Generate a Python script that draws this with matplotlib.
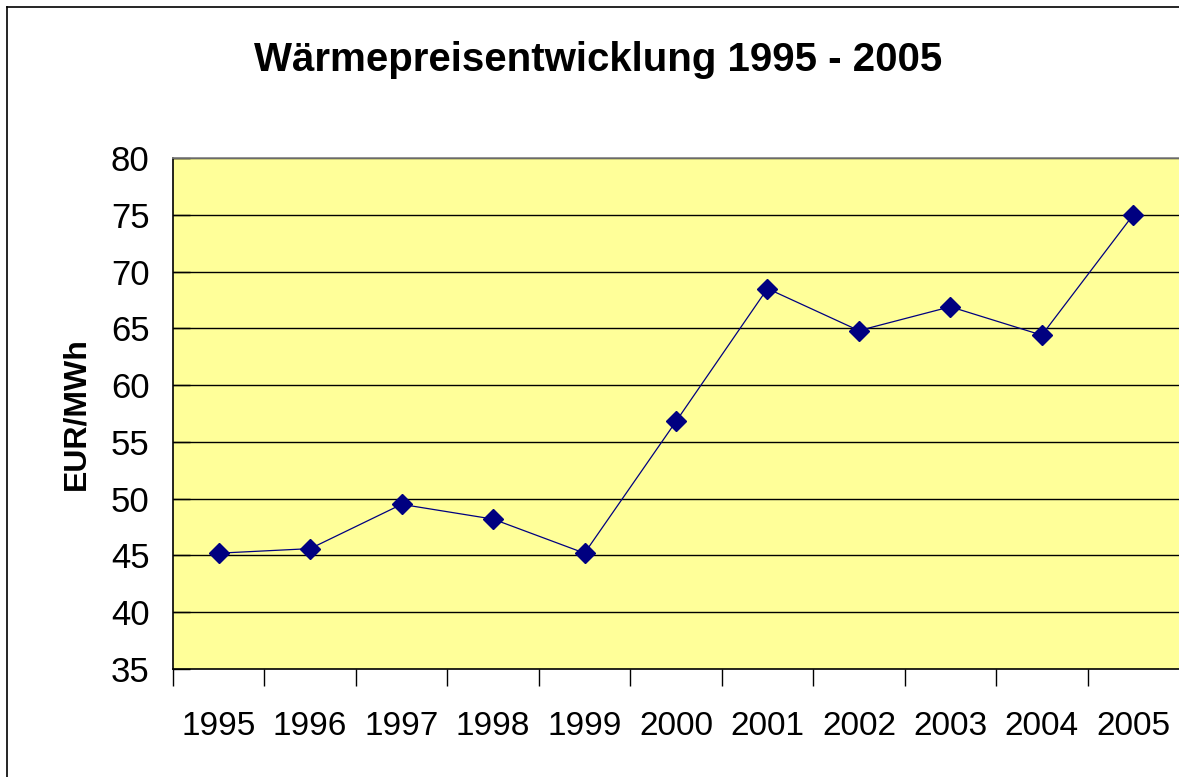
import matplotlib
matplotlib.use("Agg")
import matplotlib.pyplot as plt
from matplotlib.lines import Line2D

# Daten
years = ["1995", "1996", "1997", "1998", "1999", "2000",
         "2001", "2002", "2003", "2004", "2005"]
prices = [45.2, 45.6, 49.5, 48.2, 45.2, 56.8, 68.5, 64.8, 66.9, 64.4, 75.0]
yticks = [35, 40, 45, 50, 55, 60, 65, 70, 75, 80]

plt.rcParams["font.family"] = ["Liberation Sans", "DejaVu Sans"]

fig = plt.figure(figsize=(11.79, 7.77), dpi=100)
fig.patch.set_facecolor("white")
fig.patch.set_edgecolor("white")
fig.patch.set_linewidth(0)
# Rahmen links und oben (rechts/unten abgeschnitten)
fx = 6.5 / 1179
fy = 1 - 6.5 / 777
fig.lines.append(Line2D([fx, fx], [0, fy], transform=fig.transFigure,
                        color="black", linewidth=1.2))
fig.lines.append(Line2D([fx, 1.01], [fy, fy], transform=fig.transFigure,
                        color="black", linewidth=1.2))

ax = fig.add_axes([173 / 1179, 108 / 777, 1006 / 1179, 511 / 777])
ax.set_facecolor("#FFFF99")

x = list(range(len(years)))
ax.plot(x, prices, color="#000080", linewidth=0.9, marker="D",
        markersize=10, markerfacecolor="#000080", markeredgecolor="#000080",
        zorder=3)

ax.set_xlim(-0.5, len(years) - 0.5)
ax.set_ylim(35, 80)
ax.set_yticks(yticks)
for v in yticks[1:]:
    ax.axhline(v, color="black", linewidth=1.0, zorder=1)

ax.set_xticks([i + 0.5 for i in range(len(years) - 1)] + [-0.5])
ax.set_xticklabels([])
ax.tick_params(axis="x", direction="out", length=12, width=1.0)
ax.set_xticks(x, minor=True)
ax.set_xticklabels(years, minor=True, fontsize=24)
ax.tick_params(axis="x", which="minor", length=0, pad=30)
ax.tick_params(axis="y", direction="in", length=12, width=1.0,
               labelsize=25, pad=17)

ax.spines["left"].set_color("black")
ax.spines["bottom"].set_color("black")
ax.spines["top"].set_color("#808080")
ax.spines["right"].set_visible(False)
for s in ax.spines.values():
    s.set_linewidth(1.2)

ax.set_ylabel("EUR/MWh", fontsize=23, fontweight="bold", labelpad=14)
fig.text(598 / 1179, 1 - 60 / 777, "Wärmepreisentwicklung 1995 - 2005",
         ha="center", va="center", fontsize=29, fontweight="bold")

fig.savefig("out.png", dpi=100)
